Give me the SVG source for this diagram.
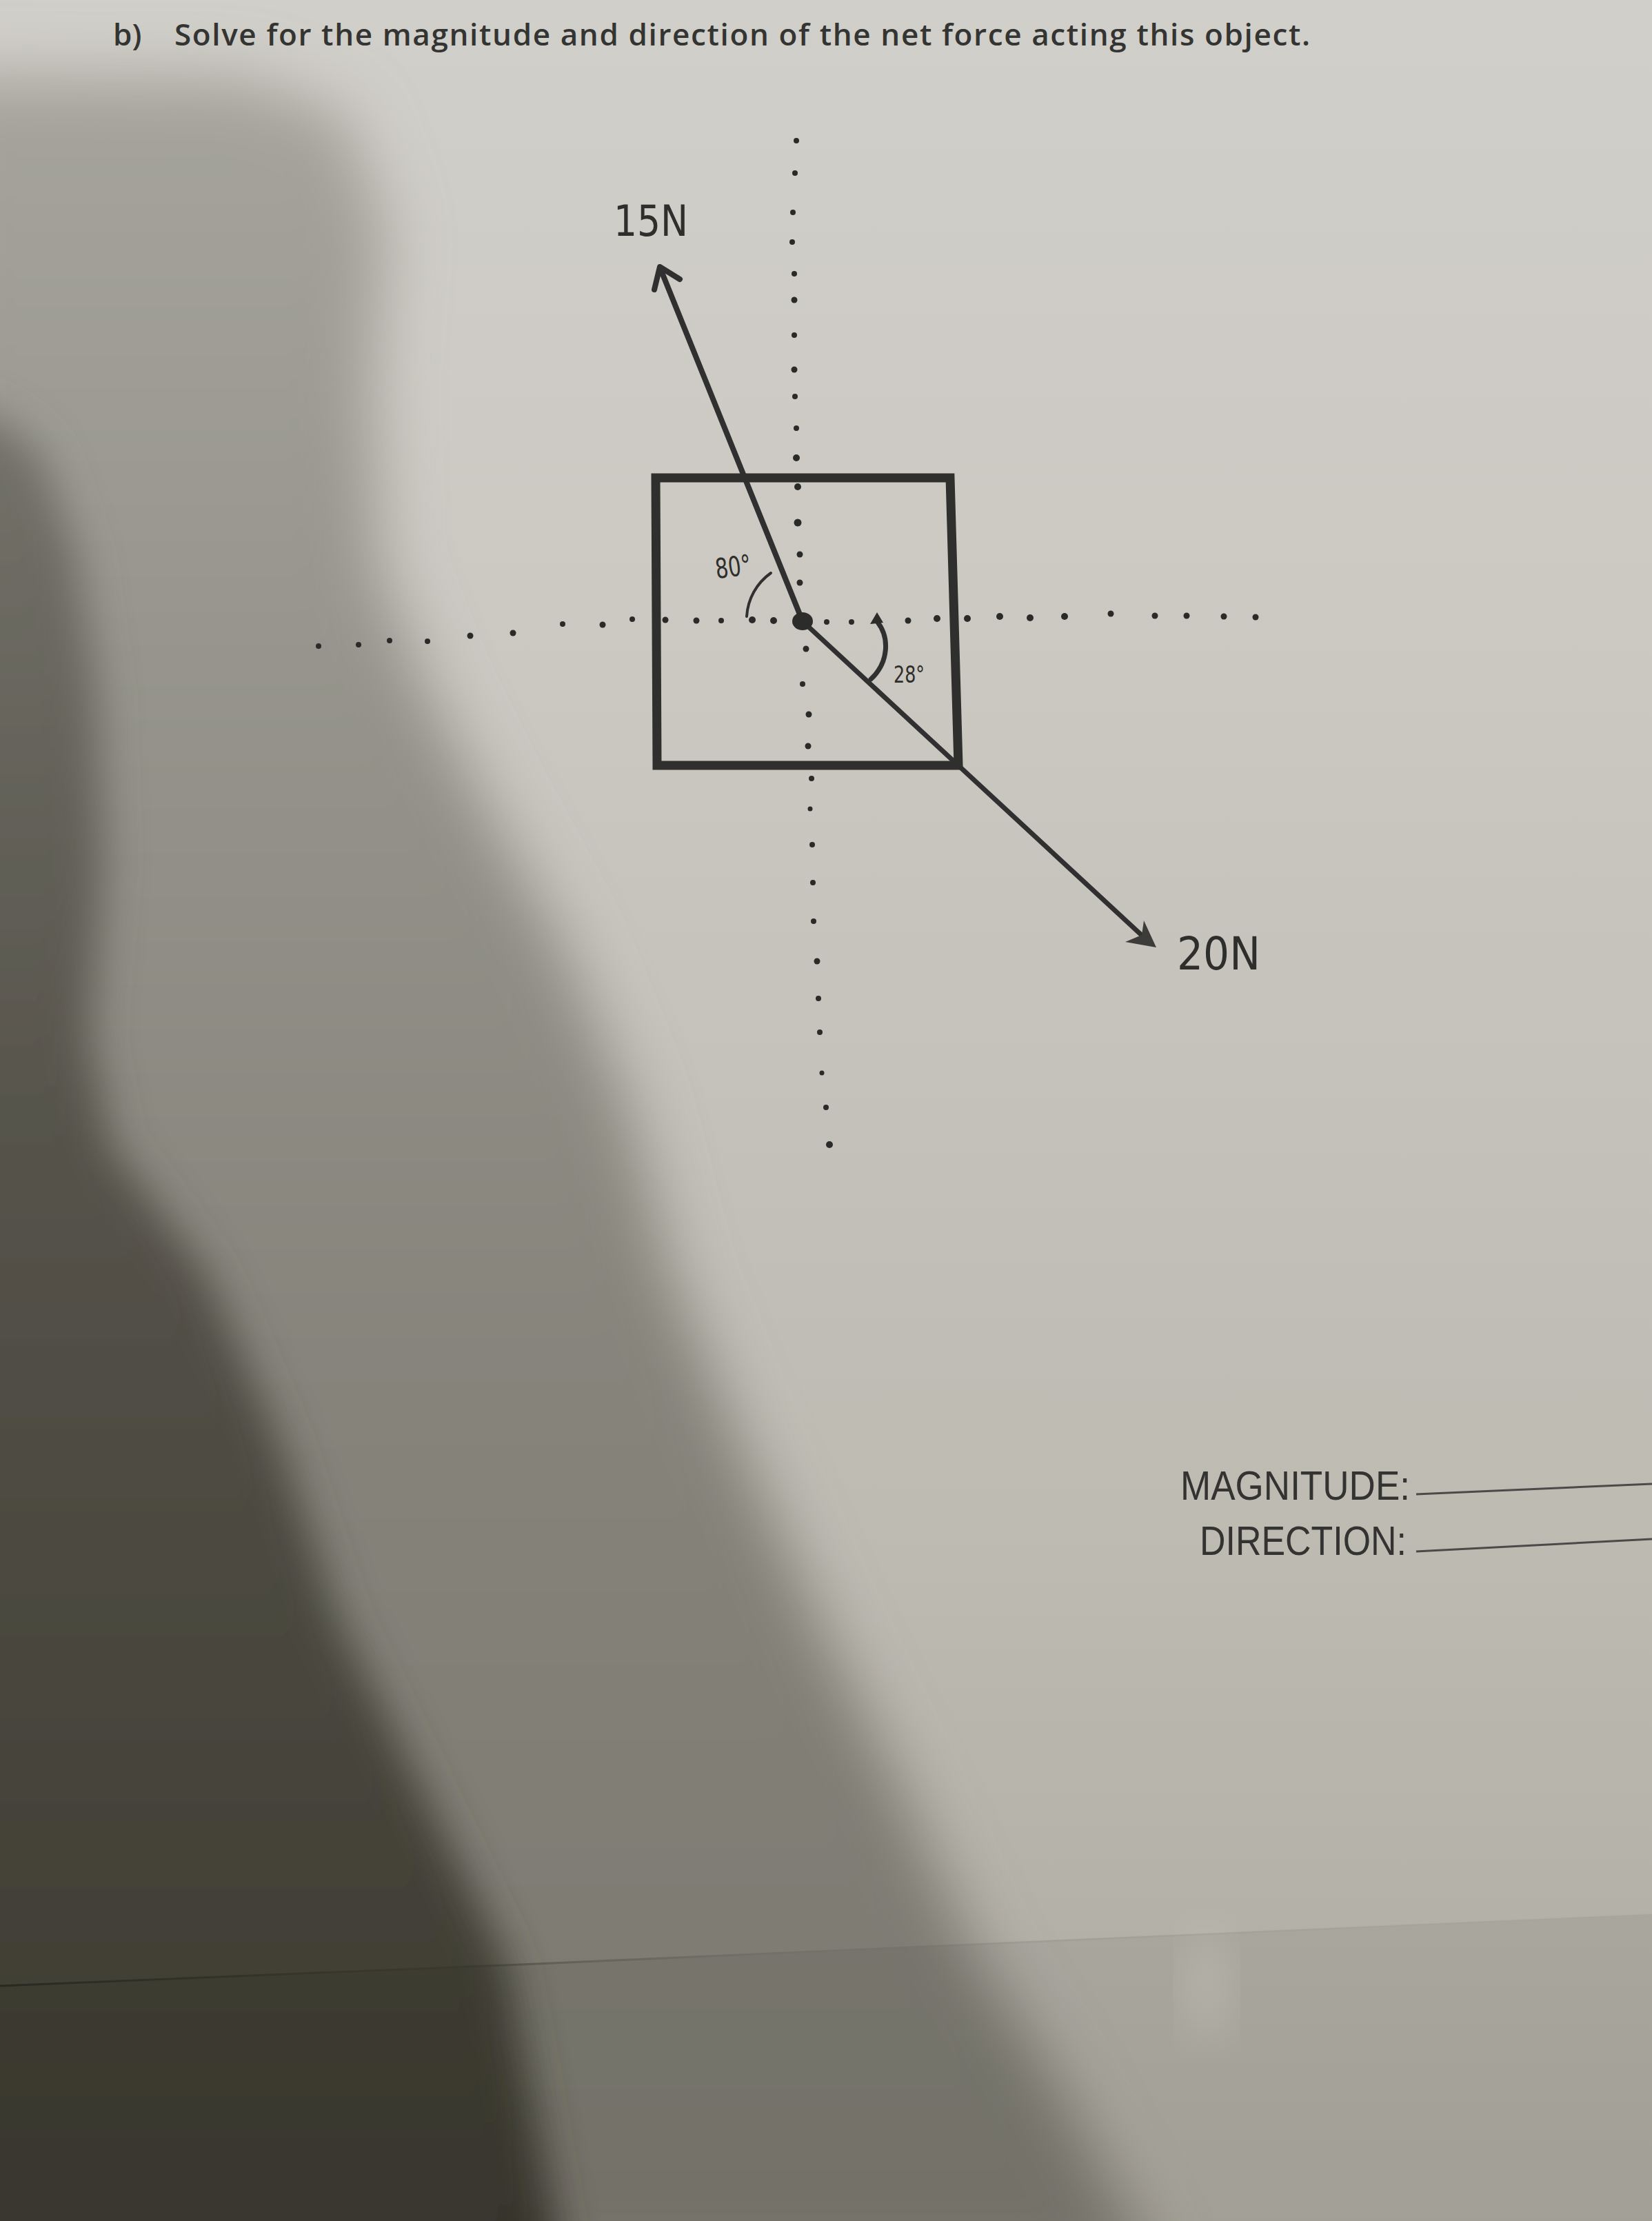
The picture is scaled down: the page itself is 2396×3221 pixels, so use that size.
<svg xmlns="http://www.w3.org/2000/svg" width="2396" height="3221" viewBox="0 0 2396 3221">
<style>
.ink{fill:#2c2c2a}
.dot{fill:#2a2a28}
.stroke{fill:none;stroke:#303030;stroke-linecap:round;stroke-linejoin:round}
.title{font-family:"Open Sans","Liberation Sans",sans-serif;font-size:44px;font-weight:600;fill:#343432}
.hand{font-family:"DejaVu Sans","Liberation Sans",sans-serif;fill:#2e2e2c}
.form{font-family:"Liberation Sans","Open Sans",sans-serif;font-size:60px;fill:#333331}
.blank{stroke:#4a4a48;stroke-width:3}
</style>
<defs>
<linearGradient id="paper" x1="0" y1="0" x2="0" y2="1">
<stop offset="0" stop-color="#d1cfc9"/>
<stop offset="0.3" stop-color="#cac8c1"/>
<stop offset="0.7" stop-color="#bdbab2"/>
<stop offset="0.88" stop-color="#b3b0a7"/>
<stop offset="1" stop-color="#adaaa0"/>
</linearGradient>
<linearGradient id="penumbra" x1="0" y1="0" x2="0" y2="1">
<stop offset="0" stop-color="#a6a49c"/>
<stop offset="0.3" stop-color="#94928a"/>
<stop offset="0.6" stop-color="#85837a"/>
<stop offset="1" stop-color="#7a786e"/>
</linearGradient>
<linearGradient id="core" x1="0" y1="0" x2="0" y2="1">
<stop offset="0" stop-color="#74726a"/>
<stop offset="0.4" stop-color="#55534a"/>
<stop offset="1" stop-color="#3a382e"/>
</linearGradient>
<linearGradient id="edge" x1="0" y1="0" x2="1" y2="0">
<stop offset="0" stop-color="#22201a" stop-opacity="0.7"/>
<stop offset="0.3" stop-color="#3a382f" stop-opacity="0.45"/>
<stop offset="0.5" stop-color="#6a685f" stop-opacity="0.15"/>
<stop offset="1" stop-color="#8a887f" stop-opacity="0.05"/>
</linearGradient>
<filter id="blurBig" x="-20%" y="-20%" width="140%" height="140%"><feGaussianBlur stdDeviation="45"/></filter>
<filter id="blurMid" x="-20%" y="-20%" width="140%" height="140%"><feGaussianBlur stdDeviation="30"/></filter>
</defs>

<g id="background">
<rect x="0" y="0" width="2396" height="3221" fill="url(#paper)"/>
<g id="shadow">
<path filter="url(#blurBig)" fill="url(#penumbra)" d="M-100,110 L350,112 L500,165 L560,330 L540,560 L550,820 L620,1000 L700,1160 L820,1380 L910,1600 L975,1849 L1075,2097 L1185,2346 L1306,2595 L1420,2844 L1520,3000 L1680,3300 L-100,3300 Z"/>
<path filter="url(#blurMid)" fill="url(#core)" d="M-100,580 L0,610 L60,660 L110,800 L140,1000 L150,1250 L130,1500 L160,1660 L300,1849 L408,2097 L490,2346 L612,2595 L735,2844 L820,3300 L-100,3300 Z"/>
<ellipse cx="1750" cy="2880" rx="35" ry="80" fill="#cfccc3" opacity="0.45" filter="url(#blurMid)"/>
</g>
<path d="M0,2880 L2396,2776 L2396,3221 L0,3221 Z" fill="#000" opacity="0.06"/>
<path d="M0,2880 L780,2848 L2396,2776" fill="none" stroke="url(#edge)" stroke-width="3"/>
</g>

<g id="title">
<text class="title" x="164" y="66">b)</text>
<text class="title" x="253" y="66" textLength="1647" lengthAdjust="spacing">Solve for the magnitude and direction of the net force acting this object.</text>
</g>

<g id="connectors">
<g id="axis-horizontal">
<circle class="dot" cx="462" cy="937" r="4"/>
<circle class="dot" cx="520" cy="935" r="4"/>
<circle class="dot" cx="565" cy="929" r="4"/>
<circle class="dot" cx="620" cy="930" r="4"/>
<circle class="dot" cx="682" cy="922" r="4.5"/>
<circle class="dot" cx="744" cy="918" r="4.5"/>
<circle class="dot" cx="816" cy="905" r="4"/>
<circle class="dot" cx="874" cy="906" r="4.5"/>
<circle class="dot" cx="917" cy="898" r="4"/>
<circle class="dot" cx="965" cy="899" r="4.5"/>
<circle class="dot" cx="1010" cy="900" r="4.5"/>
<circle class="dot" cx="1046" cy="900" r="4"/>
<circle class="dot" cx="1091" cy="899" r="5"/>
<circle class="dot" cx="1122" cy="900" r="5"/>
<circle class="dot" cx="1199" cy="902" r="4"/>
<circle class="dot" cx="1235" cy="902" r="4"/>
<circle class="dot" cx="1317" cy="900" r="4.5"/>
<circle class="dot" cx="1359" cy="897" r="5"/>
<circle class="dot" cx="1403" cy="897" r="5"/>
<circle class="dot" cx="1450" cy="894" r="5"/>
<circle class="dot" cx="1494" cy="896" r="5"/>
<circle class="dot" cx="1544" cy="894" r="5"/>
<circle class="dot" cx="1611" cy="890" r="4.5"/>
<circle class="dot" cx="1675" cy="893" r="4.5"/>
<circle class="dot" cx="1721" cy="893" r="4.5"/>
<circle class="dot" cx="1775" cy="894" r="4.5"/>
<circle class="dot" cx="1821" cy="895" r="4.5"/>
</g>
<g id="axis-vertical">
<circle class="dot" cx="1155" cy="204" r="4"/>
<circle class="dot" cx="1153" cy="251" r="4"/>
<circle class="dot" cx="1150" cy="308" r="4"/>
<circle class="dot" cx="1149" cy="351" r="4"/>
<circle class="dot" cx="1152" cy="397" r="4"/>
<circle class="dot" cx="1152" cy="435" r="4.5"/>
<circle class="dot" cx="1152" cy="486" r="4"/>
<circle class="dot" cx="1152" cy="536" r="4.5"/>
<circle class="dot" cx="1153" cy="575" r="4"/>
<circle class="dot" cx="1155" cy="621" r="4"/>
<circle class="dot" cx="1155" cy="664" r="5"/>
<circle class="dot" cx="1157" cy="706" r="5"/>
<circle class="dot" cx="1157" cy="758" r="5.5"/>
<circle class="dot" cx="1160" cy="804" r="4.5"/>
<circle class="dot" cx="1160" cy="845" r="4.5"/>
<circle class="dot" cx="1169" cy="941" r="4.5"/>
<circle class="dot" cx="1164" cy="992" r="4"/>
<circle class="dot" cx="1173" cy="1036" r="4.5"/>
<circle class="dot" cx="1172" cy="1082" r="4.5"/>
<circle class="dot" cx="1177" cy="1129" r="4"/>
<circle class="dot" cx="1175" cy="1173" r="3.5"/>
<circle class="dot" cx="1178" cy="1225" r="4"/>
<circle class="dot" cx="1179" cy="1280" r="4"/>
<circle class="dot" cx="1180" cy="1336" r="4"/>
<circle class="dot" cx="1185" cy="1394" r="4.5"/>
<circle class="dot" cx="1187" cy="1448" r="4"/>
<circle class="dot" cx="1189" cy="1497" r="4"/>
<circle class="dot" cx="1192" cy="1556" r="3.5"/>
<circle class="dot" cx="1198" cy="1606" r="4"/>
<circle class="dot" cx="1203" cy="1660" r="5"/>
</g>
<g id="arrow-15N">
<line class="stroke" x1="1164" y1="901" x2="958" y2="390" stroke-width="8" stroke="#333331"/>
<path class="stroke" d="M949,420 L957,387 L986,405" stroke-width="8" stroke="#333331"/>
</g>
<g id="arrow-20N">
<line class="stroke" x1="1164" y1="901" x2="1662" y2="1362" stroke-width="7" stroke="#4a4a47"/>
<polygon points="1677,1374 1632,1366 1656,1356 1659,1335" fill="#3c3c3a"/>
</g>
</g>

<g id="box">
<polygon points="951,693 1378,693 1390,1110 953,1110" fill="none" stroke="#2f2f2d" stroke-width="13" stroke-linejoin="miter"/>
</g>

<g id="center">
<ellipse cx="1164" cy="901" rx="15" ry="13" class="ink"/>
</g>

<g id="angle-80">
<path class="stroke" d="M1083,894 A83,83 0 0 1 1118,831" stroke-width="4"/>
<text class="hand" x="1037" y="836" font-size="40" textLength="52" lengthAdjust="spacingAndGlyphs" transform="rotate(-8 1062 820)">80°</text>
</g>

<g id="angle-28">
<path class="stroke" d="M1271,900 C1292,925 1288,962 1263,985" stroke-width="7"/>
<polygon points="1262,905 1272,888 1281,903" class="ink"/>
<text class="hand" x="1296" y="990" font-size="34" textLength="45" lengthAdjust="spacingAndGlyphs">28°</text>
</g>

<g id="label-15N">
<text class="hand" x="890" y="342" font-size="62" textLength="108" lengthAdjust="spacingAndGlyphs">15N</text>
</g>

<g id="label-20N">
<text class="hand" x="1707" y="1406" font-size="66" textLength="121" lengthAdjust="spacingAndGlyphs">20N</text>
</g>

<g id="answers">
<text class="form" x="1712" y="2175" textLength="333" lengthAdjust="spacingAndGlyphs">MAGNITUDE:</text>
<line class="blank" x1="2054" y1="2167" x2="2396" y2="2152"/>
<text class="form" x="1740" y="2255" textLength="300" lengthAdjust="spacingAndGlyphs">DIRECTION:</text>
<line class="blank" x1="2054" y1="2250" x2="2396" y2="2232"/>
</g>
</svg>
